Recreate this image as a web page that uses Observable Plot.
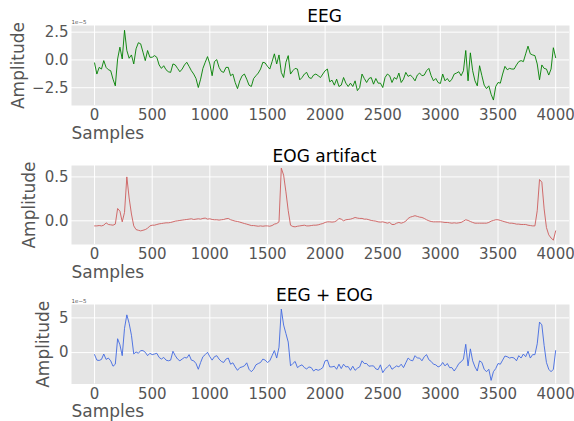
<!DOCTYPE html>
<html><head><meta charset="utf-8">
<script src="https://cdn.jsdelivr.net/npm/d3@7"></script>
<script src="https://cdn.jsdelivr.net/npm/@observablehq/plot@0.6"></script>
<style>
body{margin:0;background:#fff;font-family:"DejaVu Sans",sans-serif;}
#chart{width:574px;}
#chart svg{display:block;}
</style></head><body><div id="chart"></div>
<script>
// sample spacing of the values below (samples 0..4000)
const sampleStep = 20;

// EEG (units of 1e-5)
const eeg = [-0.27,-1.27,-0.67,-0.82,-0.06,-0.67,-0.88,-0.97,-1.73,-2.33,
0.09,1.15,0.09,2.67,0.85,0.15,0.45,-0.36,1.0,1.55,
1.45,0.7,-0.06,0.85,0.24,0.24,0.39,0.24,-0.45,-0.76,
-0.52,-0.88,-1.06,-1.12,-0.36,-0.45,-0.76,-1.06,-0.82,-0.45,
-0.21,-0.58,-0.97,-1.27,-1.67,-2.48,-1.73,-0.76,-0.21,0.3,
-0.36,-1.42,-0.15,0.03,-0.67,-1.03,-1.12,-0.67,-0.67,-1.42,
-1.27,-2.03,-2.58,-1.88,-1.42,-1.27,-1.73,-2.27,-2.39,-1.67,
-1.42,-1.18,-0.82,-0.21,-0.27,-0.58,-0.82,-0.15,0.55,-0.36,
0.45,-1.12,-1.58,-0.21,0.39,-1.27,-0.97,-0.76,-0.82,-1.79,
-1.58,-1.27,-1.12,-1.58,-1.67,-1.36,-1.27,-1.42,-1.58,-1.27,
-0.97,-0.82,-1.97,-1.82,-2.27,-1.73,-2.39,-2.27,-1.58,-2.09,
-2.39,-2.09,-2.39,-1.88,-2.76,-2.48,-1.27,-1.67,-2.03,-1.67,
-1.58,-2.18,-1.67,-2.09,-2.09,-2.48,-1.58,-1.27,-1.42,-2.03,
-1.58,-1.73,-1.18,-2.03,-1.73,-1.12,-1.48,-1.36,-1.58,-1.88,
-1.36,-1.18,-1.42,-1.36,-0.97,-0.76,-1.42,-1.88,-1.67,-2.03,
-2.12,-1.27,-1.88,-1.67,-1.97,-1.73,-1.27,-1.18,-1.06,-1.42,
-0.97,0.85,-1.88,0.64,-0.97,-1.88,-2.33,-0.52,-1.42,-2.27,
-2.58,-2.33,-3.09,-3.61,-2.39,-2.03,-2.09,-1.27,-0.58,-0.88,
-0.76,-0.82,-0.82,-0.45,-0.15,-0.06,-0.15,0.55,1.24,0.55,
0.45,0.39,-0.36,-1.79,-0.45,-0.76,-0.82,-1.36,-0.82,1.1,
0.2];

// EOG artifact
const eog = [-0.058,-0.058,-0.054,-0.058,-0.05,-0.023,-0.042,-0.046,-0.05,-0.038,
0.14,0.11,-0.012,0.096,0.5,0.26,0.077,-0.058,-0.1,-0.108,
-0.115,-0.108,-0.1,-0.085,-0.058,-0.05,-0.05,-0.042,-0.035,-0.031,
-0.027,-0.023,-0.023,-0.019,-0.012,-0.004,0,0.004,0.008,0.012,
0.015,0.019,0.023,0.015,0.019,0.023,0.019,0.027,0.031,0.019,
0.023,0.015,0.012,0.012,0.008,0.012,0.015,0.023,0.027,0.012,
0.004,-0.004,-0.008,-0.015,-0.023,-0.031,-0.038,-0.046,-0.054,-0.054,
-0.058,-0.062,-0.058,-0.062,-0.058,-0.058,-0.062,-0.054,-0.038,-0.031,
-0.012,0.6,0.52,0.33,0.115,-0.05,-0.065,-0.069,-0.062,-0.058,
-0.054,-0.05,-0.058,-0.058,-0.054,-0.05,-0.05,-0.046,-0.038,-0.031,
-0.019,-0.012,-0.012,-0.015,-0.012,0,0.027,0.019,0,0.012,
0.015,0.019,0.027,0.038,0.031,0.027,0.027,0.019,0.019,0.012,
0.004,0,-0.004,-0.012,-0.015,-0.012,-0.019,-0.027,-0.019,-0.042,
-0.042,-0.027,-0.019,-0.027,-0.019,-0.004,0.027,0.042,0.05,0.058,
0.05,0.042,0.038,0.027,0.012,0,-0.008,-0.012,-0.012,-0.012,
-0.012,-0.015,-0.019,-0.019,-0.023,-0.027,-0.023,-0.027,-0.023,-0.019,
-0.004,0.012,0.004,-0.008,-0.019,-0.027,-0.027,-0.027,-0.027,-0.027,
-0.027,-0.019,-0.004,0.004,0.012,0.012,0.004,-0.004,-0.012,-0.019,
-0.027,-0.027,-0.031,-0.038,-0.038,-0.042,-0.042,-0.042,-0.05,-0.054,
-0.058,-0.058,0.115,0.47,0.44,0.135,-0.077,-0.16,-0.196,-0.22,
-0.115];

// EEG + EOG (units of 1e-5)
const eegEog = [-0.29,-1.08,-1.13,-0.98,-0.2,-0.98,-0.78,-1.18,-1.96,-1.67,
2.0,1.13,-0.44,3.5,5.44,4.22,2.5,-0.2,0.1,-0.1,
0.29,0.29,0.05,-0.44,-0.1,-0.29,-0.2,-0.1,-0.69,-0.93,
-0.69,-1.08,-1.18,-1.08,0.2,-0.44,-0.93,-1.18,-0.93,-0.69,
-0.78,-0.29,-1.08,-1.18,-1.57,-2.4,-1.42,-0.59,-0.29,0.05,
-0.59,-1.08,-0.59,-0.44,-0.93,-1.27,-1.42,-0.93,-0.78,-1.67,
-1.47,-2.06,-2.55,-2.16,-2.06,-1.91,-1.47,-2.4,-2.75,-2.4,
-1.76,-1.57,-1.42,-0.93,-1.08,-1.42,-1.18,-0.44,0.29,-0.78,
0.78,6.27,3.97,2.75,1.52,-1.91,-1.57,-1.27,-2.16,-1.91,
-1.76,-2.16,-2.35,-2.06,-2.16,-2.65,-2.4,-2.55,-2.4,-2.16,
-1.18,-1.08,-2.06,-2.06,-1.96,-2.4,-1.67,-2.3,-1.67,-2.06,
-2.01,-2.55,-1.96,-2.55,-2.25,-2.06,-1.18,-1.57,-1.57,-1.96,
-1.91,-1.91,-2.35,-2.45,-1.76,-2.89,-2.4,-2.06,-1.76,-2.4,
-2.16,-1.91,-2.06,-1.67,-2.16,-1.47,-0.78,-1.08,-1.18,-0.44,
-0.78,-0.78,-1.18,-0.59,-0.29,-1.03,-1.27,-1.67,-1.76,-2.06,
-1.91,-1.42,-1.91,-1.57,-2.16,-2.16,-2.65,-2.16,-1.57,-1.32,
-0.93,1.2,-1.91,0.54,-1.18,-2.06,-2.65,-1.18,-1.42,-2.4,
-2.75,-2.4,-4.0,-2.75,-2.3,-1.57,-1.67,-1.08,-0.49,-0.59,
-0.78,-0.69,-0.78,-1.18,-0.44,-0.78,-0.2,-0.59,0.2,-0.78,
-0.29,-0.29,1.27,4.4,4.0,1.03,-1.42,-2.4,-2.75,-2.4,
0.29];

const xTicks = [0, 500, 1000, 1500, 2000, 2500, 3000, 3500, 4000];
const titles = ["EEG", "EOG artifact", "EEG + EOG"];
const yTicksEEG = [-2.5, 0, 2.5];
const yTicksEOG = [0, 0.5];
const yTicksSum = [0, 5];
const offsetLabels = ["1e\u22125", null, "1e\u22125"];
const colors = ["#008000", "#cd5c5c", "#4169e1"];

const panels = [
  {values: eeg, title: titles[0], color: colors[0], yDomain: [-4.1, 3.1], yTicks: yTicksEEG, fmt: d3.format(".1f"), height: 144, mt: 25, mb: 39, labelX: 23, offset: offsetLabels[0]},
  {values: eog, title: titles[1], color: colors[1], yDomain: [-0.27, 0.63], yTicks: yTicksEOG, fmt: d3.format(".1f"), height: 140, mt: 21, mb: 40, labelX: 34, offset: offsetLabels[1]},
  {values: eegEog, title: titles[2], color: colors[2], yDomain: [-4.52, 6.93], yTicks: yTicksSum, fmt: d3.format("d"), height: 137, mt: 20, mb: 37.5, labelX: 48.5, offset: offsetLabels[2]}
];

const chart = document.getElementById("chart");
for (const p of panels) {
  const data = p.values.map((v, i) => ({s: i * sampleStep, v}));
  const marks = [
    Plot.frame({fill: "#e5e5e5", stroke: "none"}),
    Plot.gridX(xTicks, {stroke: "white", strokeOpacity: 1, strokeWidth: 1}),
    Plot.gridY(p.yTicks, {stroke: "white", strokeOpacity: 1, strokeWidth: 1}),
    Plot.axisX(xTicks, {tickSize: 0, tickPadding: 4, fontSize: 15, color: "#555", label: null, tickFormat: d => String(d)}),
    Plot.axisY(p.yTicks, {tickSize: 0, tickPadding: 3, fontSize: 15, color: "#555", label: null, tickFormat: p.fmt}),
    Plot.lineY(data, {x: "s", y: "v", stroke: p.color, strokeWidth: 0.9}),
    Plot.text([p.title], {frameAnchor: "top", lineAnchor: "bottom", dy: -3.5, dx: 4, fontSize: 17, fill: "black"}),
    Plot.text(["Samples"], {frameAnchor: "bottom-left", textAnchor: "start", lineAnchor: "bottom", dy: 33, fontSize: 17, fill: "#555"}),
    Plot.text(["Amplitude"], {frameAnchor: "left", rotate: () => -90, textAnchor: "middle", lineAnchor: "bottom", dx: p.labelX - 71, fontSize: 17, fill: "#555", lineWidth: Infinity})
  ];
  if (p.offset) marks.push(Plot.text([p.offset], {frameAnchor: "top-left", textAnchor: "start", lineAnchor: "bottom", dy: -2, fontSize: 5.5, fill: "#555"}));
  const svg = Plot.plot({
    width: 574, height: p.height,
    marginTop: p.mt, marginBottom: p.mb, marginLeft: 71, marginRight: 5,
    style: {fontFamily: "DejaVu Sans", background: "white"},
    x: {domain: [-200, 4120]},
    y: {domain: p.yDomain},
    marks
  });
  chart.appendChild(svg);
}
</script>
</body></html>
